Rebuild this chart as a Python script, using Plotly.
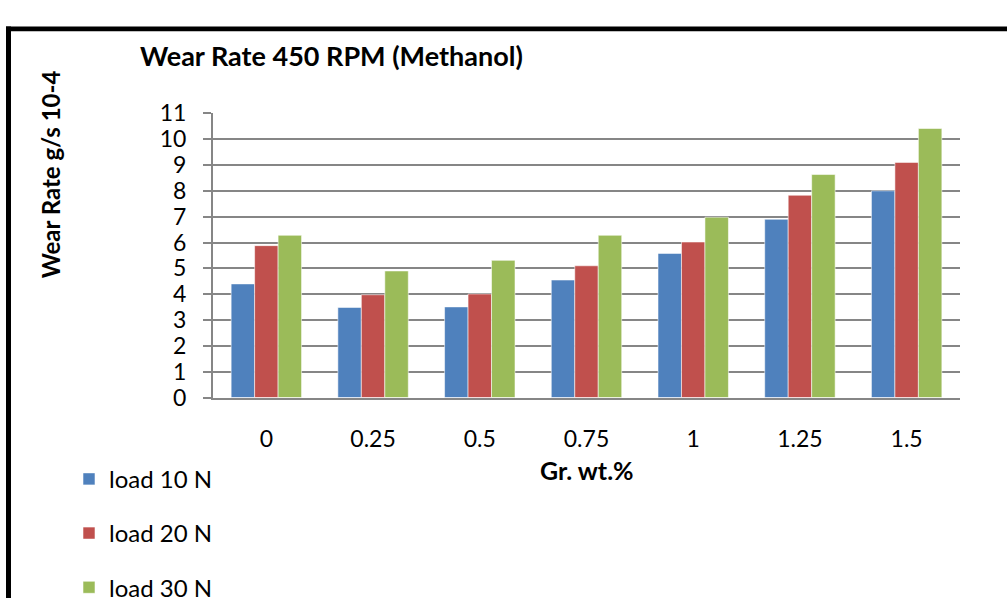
import plotly.graph_objects as go

# Graphite content (wt.%) on the category axis
categories = ["0", "0.25", "0.5", "0.75", "1", "1.25", "1.5"]

# Wear rate (g/s x 10^-4) for each applied load
load_10 = [4.40, 3.49, 3.51, 4.55, 5.58, 6.90, 8.00]
load_20 = [5.88, 3.98, 4.01, 5.10, 6.02, 7.83, 9.10]
load_30 = [6.28, 4.90, 5.31, 6.28, 6.98, 8.63, 10.41]

series_names = ["load 10 N", "load 20 N", "load 30 N"]
series_values = [load_10, load_20, load_30]
series_colors = ["#4F81BD", "#C0504D", "#9BBB59"]

y_ticks = list(range(0, 12))

W, H = 1007, 611
FONT = "Lato"
GRID = "#868686"

fig = go.Figure()
for i, (name, vals, col) in enumerate(zip(series_names, series_values, series_colors)):
    fig.add_trace(go.Bar(
        x=categories, y=vals, name=name,
        marker=dict(color=col, line=dict(color="rgba(255,255,255,0.55)", width=1)),
        legendgroup=f"g{i}",
    ))

# plot area in pixels
px_l, px_r, px_t, px_b = 213, 960, 103, 401

fig.update_layout(
    width=W, height=H,
    margin=dict(l=0, r=0, t=0, b=0),
    paper_bgcolor="white", plot_bgcolor="white",
    barmode="group", bargap=0.34, bargroupgap=0.0,
    font=dict(family=FONT, size=23, color="black"),
    showlegend=True,
    legend=dict(
        x=69 / W, y=1 - 463 / H, xanchor="left", yanchor="top",
        orientation="v", tracegroupgap=20,
        font=dict(family=FONT, size=24, color="black"),
        itemwidth=30, bgcolor="rgba(0,0,0,0)",
    ),
    xaxis=dict(
        domain=[px_l / W, px_r / W],
        showgrid=False, showline=True, linecolor=GRID, linewidth=2,
        ticks="", tickfont=dict(family=FONT, size=23),
        ticklabelstandoff=20,
    ),
    yaxis=dict(
        domain=[1 - px_b / H, 1 - px_t / H],
        range=[0, 11], tickvals=y_ticks,
        showgrid=True, gridcolor=GRID, gridwidth=2,
        showline=True, linecolor=GRID, linewidth=2,
        ticks="outside", ticklen=8, tickcolor=GRID, tickwidth=2,
        tickfont=dict(family=FONT, size=23),
        ticklabelstandoff=12,
        zeroline=False,
    ),
)

# Titles
fig.add_annotation(text="<b>Wear Rate 450 RPM (Methanol)</b>", xref="paper", yref="paper",
                   x=138 / W, y=1 - 42 / H, xanchor="left", yanchor="middle",
                   showarrow=False, font=dict(family=FONT, size=27, color="black"))
fig.add_annotation(text="<b>Wear Rate g/s 10-4</b>", xref="paper", yref="paper",
                   x=50 / W, y=1 - 167 / H, xanchor="center", yanchor="middle",
                   textangle=-90, showarrow=False,
                   font=dict(family=FONT, size=24, color="black"))
fig.add_annotation(text="<b>Gr. wt.%</b>", xref="paper", yref="paper",
                   x=587 / W, y=1 - 477 / H, xanchor="center", yanchor="middle",
                   showarrow=False, font=dict(family=FONT, size=25, color="black"))

# Black frame along the top and left edges
fig.add_shape(type="rect", xref="paper", yref="paper",
              x0=6 / W, x1=1.0, y0=1 - 17 / H, y1=1 - 12 / H,
              fillcolor="black", line=dict(width=0))
fig.add_shape(type="rect", xref="paper", yref="paper",
              x0=6 / W, x1=11 / W, y0=0, y1=1 - 12 / H,
              fillcolor="black", line=dict(width=0))

fig.write_html("out.html")
